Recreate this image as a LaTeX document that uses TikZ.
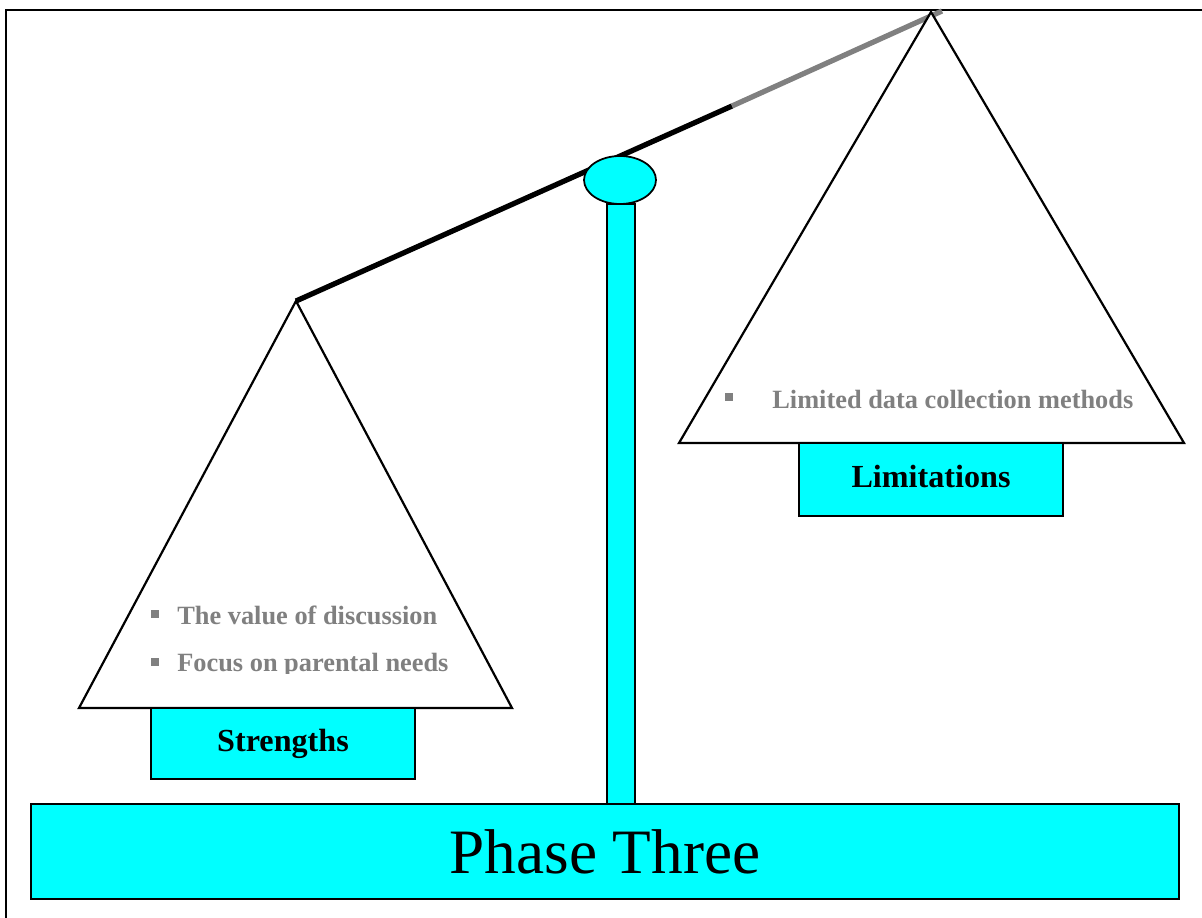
\documentclass[tikz,border=0pt]{standalone}
\usepackage{fontspec}
\setmainfont{Liberation Serif}
\usepackage{xcolor}
\usetikzlibrary{positioning, calc, shapes.geometric}

\definecolor{scalecyan}{HTML}{00FFFF}
\definecolor{notegray}{HTML}{808080}

\begin{document}
\begin{tikzpicture}[x=0.02cm, y=-0.02cm,
  panbox/.style={draw=black, line width=0.9pt, fill=scalecyan, font=\bfseries\fontsize{18.3}{21}\selectfont},
  pan/.style={draw=black, line width=1.25pt, fill=white, line join=miter},
  note/.style={anchor=west, text=notegray, font=\bfseries\fontsize{15}{18}\selectfont, inner sep=0pt},
  dot/.style={fill=notegray, minimum size=4pt, inner sep=0pt}]
\useasboundingbox (0,0) rectangle (1202,918);

% ============= frame =============
\draw[line width=1.2pt] (6,918) -- (6,10) -- (727,10);
\draw[line width=0.8pt] (727,10) -- (1202,10);

% ============= beam, post and pivot =============
\coordinate (lapex) at (296,301);
\coordinate (rapex) at (931,12);
\coordinate (beamsplit) at (732,106);
\draw[line width=3pt] (lapex) -- (beamsplit);
\draw[line width=3pt, notegray] (beamsplit) -- (942,11);

\draw[fill=scalecyan, line width=0.8pt] (607,204) rectangle (635,805);
\node[draw=black, line width=1pt, fill=scalecyan, ellipse, minimum width=1.44cm, minimum height=0.96cm, inner sep=0pt] (pivot) at (620,180) {};

% ============= left pan: strengths =============
\draw[pan] (lapex) -- (79,708) -- (512,708) -- cycle;
\node[dot] (sdot1) at (155,614) {};
\node[note] (val) at (177,615) {The value of discussion};
\node[dot] (sdot2) at (155,662) {};
\begin{scope}
  \clip (150,640) rectangle (500,673);
  \node[note] (focus) at (177,665) {Focus on parental needs};
\end{scope}
\node[panbox, minimum width=5.28cm, minimum height=1.42cm] (strengths) at (283,743.5) {Strengths};

% ============= right pan: limitations =============
\draw[pan] (rapex) -- (679,443) -- (1184,443) -- cycle;
\node[dot] (ldot) at (729,397) {};
\node[note] (lim) at (772,399) {Limited data collection methods};
\node[panbox, minimum width=5.28cm, minimum height=1.46cm, text depth=4pt] (limits) at (931,479.5) {Limitations};

% ============= base =============
\node[draw=black, line width=0.9pt, fill=scalecyan, minimum width=22.96cm, minimum height=1.9cm,
  font=\fontsize{36}{40}\selectfont] (phase) at (605,851.5) {Phase Three};
\end{tikzpicture}
\end{document}
